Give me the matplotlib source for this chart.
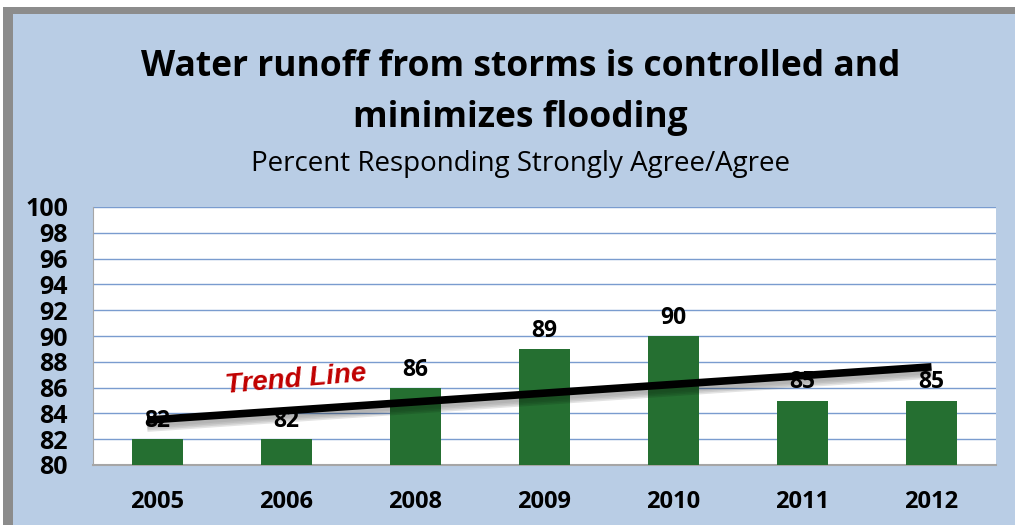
import numpy as np
import matplotlib
matplotlib.use("Agg")
import matplotlib.pyplot as plt
from matplotlib.patches import Rectangle

years = ["2005", "2006", "2008", "2009", "2010", "2011", "2012"]
values = [82, 82, 86, 89, 90, 85, 85]
yticks = list(range(80, 101, 2))

BG = "#B9CDE5"
GREEN = "#256F31"
GRID = "#7A9CCF"

fig = plt.figure(figsize=(10.15, 5.25), dpi=100)
fig.patch.set_facecolor("white")
# background panel with gray top/left frame
fig.add_artist(Rectangle((0.003, 0), 0.997, 0.987, transform=fig.transFigure,
                         facecolor="#8C8C8C", edgecolor="none", zorder=-3))
fig.add_artist(Rectangle((0.0125, 0), 0.9875, 0.9735, transform=fig.transFigure,
                         facecolor=BG, edgecolor="none", zorder=-2))

L, R = 93 / 1015, 996 / 1015
B, T = 1 - 465 / 525, 1 - 207 / 525
ax = fig.add_axes([L, B, R - L, T - B])
ax.set_facecolor("white")

x = np.arange(len(years))
ax.bar(x, values, width=0.4, color=GREEN, zorder=3)
ax.set_xlim(-0.5, len(years) - 0.5)
ax.set_ylim(80, 100)
ax.set_yticks(yticks)
ax.set_yticklabels([str(t) for t in yticks], fontsize=18, fontweight="bold",
                   family="Open Sans")
ax.set_xticks(x)
ax.set_xticklabels(years, fontsize=17, fontweight="bold", family="Open Sans")
ax.tick_params(axis="both", length=0)
ax.tick_params(axis="x", pad=18)
ax.tick_params(axis="y", pad=18)
for lab in ax.get_yticklabels():
    lab.set_horizontalalignment("right")
ax.yaxis.grid(True, color=GRID, linewidth=1.0, zorder=1)
for s in ["top", "right"]:
    ax.spines[s].set_visible(False)
ax.spines["left"].set_color("#A6A6A6")
ax.spines["bottom"].set_color("#A6A6A6")
ax.spines["bottom"].set_linewidth(1.5)

# data labels
for xi, v in zip(x, values):
    ax.annotate(str(v), (xi, v), xytext=(0, 13), textcoords="offset points",
                ha="center", va="center", fontsize=16.5, fontweight="bold",
                family="Open Sans", zorder=6)

# trend line (least squares)
k, b0 = np.polyfit(x, values, 1)
xs = np.array([-0.08, 6.0])
ys = k * xs + b0
for i, a in enumerate([0.05, 0.07, 0.09, 0.11]):
    off = 0.18 + 0.12 * i
    ax.plot(xs, ys - off, color="black", alpha=a, linewidth=7,
            solid_capstyle="butt", zorder=4)
ax.plot(xs, ys, color="black", linewidth=5.5, solid_capstyle="butt", zorder=5)

ax.text(1.07, 86.6, "Trend Line", color="#C00000", fontsize=20,
        fontweight="bold", style="italic", family="Liberation Sans",
        rotation=5, ha="center", va="center", zorder=6)

fig.text(0.513, 1 - 67 / 525, "Water runoff from storms is controlled and",
         ha="center", va="center", fontsize=25.5, fontweight="bold", family="Open Sans")
fig.text(0.513, 1 - 118 / 525, "minimizes flooding",
         ha="center", va="center", fontsize=25.5, fontweight="bold", family="Open Sans")
fig.text(0.513, 1 - 164 / 525, "Percent Responding Strongly Agree/Agree",
         ha="center", va="center", fontsize=20, family="Open Sans")

fig.savefig("out.png", dpi=100, facecolor=fig.get_facecolor())
